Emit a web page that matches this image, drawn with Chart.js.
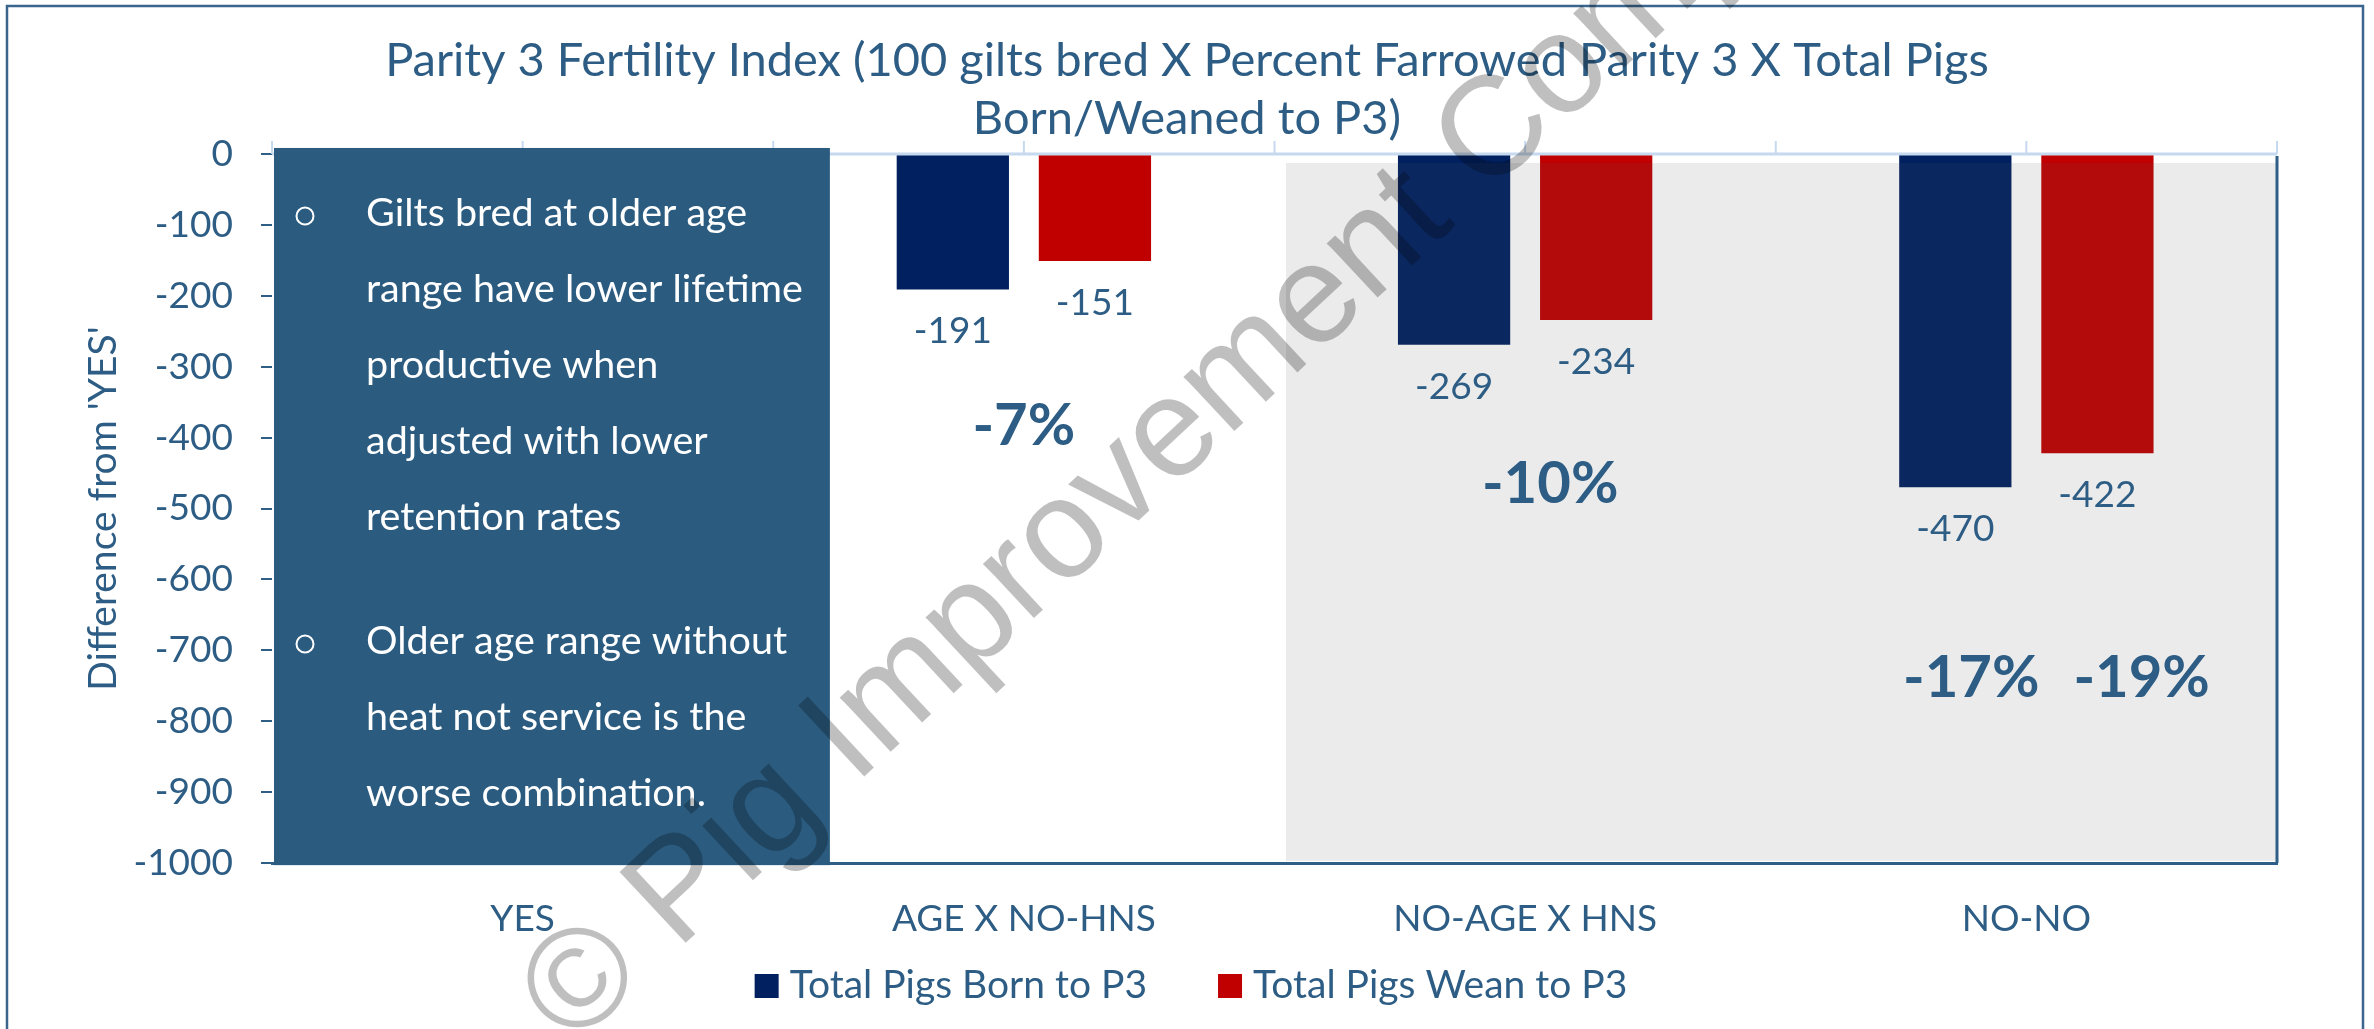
<!DOCTYPE html>
<html><head><meta charset="utf-8">
<script src="https://cdn.jsdelivr.net/npm/chart.js@4.4.1/dist/chart.umd.min.js"></script>
<style>html,body{margin:0;padding:0;background:#fff;overflow:hidden}canvas{display:block}</style>
</head><body>
<canvas id="c" width="2374" height="1029" style="width:2374px;height:1029px"></canvas>
<script>
// ---------- data ----------
const categories = ['YES', 'AGE X NO-HNS', 'NO-AGE X HNS', 'NO-NO'];
const seriesNames = ['Total Pigs Born to P3', 'Total Pigs Wean to P3'];
const bornToP3 = [0, -191, -269, -470];
const weanToP3 = [0, -151, -234, -422];
const yTickValues = [0, -100, -200, -300, -400, -500, -600, -700, -800, -900, -1000];
const pctLabels = ['-7%', '-10%', '-17%', '-19%'];
const titleLines = ['Parity 3 Fertility Index (100 gilts bred X Percent Farrowed Parity 3 X Total Pigs', 'Born/Weaned to P3)'];
const yAxisTitle = "Difference from 'YES'";
const noteGroups = [
  ['Gilts bred at older age', 'range have lower lifetime', 'productive when', 'adjusted with lower', 'retention rates'],
  ['Older age range without', 'heat not service is the', 'worse combination.']
];
const watermarkText = '\u00A9 Pig Improvement Company';

// ---------- annotation placement (in axis units) ----------
const pctPlacement = [ {x: 1.0, y: -381}, {x: 2.05, y: -462}, {x: 2.89, y: -736}, {x: 3.23, y: -736} ];
const shadeRegion = {x0: 1.523, x1: 3.5, y0: -12.7, y1: -997};
const noteBox = {x0: -0.496, x1: 0.613, y0: 8.5, y1: -1003};

// ---------- styles ----------
const FONT = 'Lato, "Open Sans", sans-serif';
const TXT = '#2d5d84';
const DARK = '#2f5f86';
const BOX = '#2b5c80';
const LIGHT = '#c6d9ee';

function ln(ctx, x0, y0, x1, y1) { ctx.beginPath(); ctx.moveTo(x0, y0); ctx.lineTo(x1, y1); ctx.stroke(); }

const decor = {
  id: 'decor',
  afterDatasetsDraw(chart) {
    const {ctx, chartArea: ca, scales: {x, y}} = chart;
    ctx.save();
    // shaded region (drawn over bars, semi-transparent)
    const gx0 = x.getPixelForValue(shadeRegion.x0), gx1 = x.getPixelForValue(shadeRegion.x1);
    const gy0 = y.getPixelForValue(shadeRegion.y0), gy1 = y.getPixelForValue(shadeRegion.y1);
    ctx.fillStyle = 'rgba(90,90,90,0.12)';
    ctx.fillRect(gx0, gy0, gx1 - gx0, gy1 - gy0);
    // zero axis line with upward tick marks
    const y0 = y.getPixelForValue(0);
    ctx.strokeStyle = LIGHT; ctx.lineWidth = 3;
    ln(ctx, ca.left, y0, ca.right, y0);
    ctx.lineWidth = 2;
    for (let k = 0; k <= categories.length * 2; k++) {
      const px = x.getPixelForValue(-0.5 + k * 0.5);
      ln(ctx, px, y0 - 13, px, y0);
    }
    // right plot border
    ctx.strokeStyle = DARK; ctx.lineWidth = 3;
    ln(ctx, ca.right, y0 + 2, ca.right, ca.bottom);
    // value labels
    ctx.fillStyle = TXT; ctx.font = '37px ' + FONT; ctx.textAlign = 'center'; ctx.textBaseline = 'alphabetic';
    chart.data.datasets.forEach((ds, di) => {
      const meta = chart.getDatasetMeta(di);
      meta.data.forEach((el, i) => {
        const v = ds.data[i];
        if (v === 0) return;
        ctx.fillText(String(v), el.x, el.y + 54);
      });
    });
    // percentage labels
    ctx.font = 'bold 58px ' + FONT;
    pctLabels.forEach((t, i) => {
      const p = pctPlacement[i];
      ctx.fillText(t, x.getPixelForValue(p.x), y.getPixelForValue(p.y) + 21);
    });
    ctx.restore();
  },
  afterDraw(chart) {
    const {ctx, scales: {x, y}, width: W} = chart;
    ctx.save();
    // note box
    const bx0 = x.getPixelForValue(noteBox.x0), bx1 = x.getPixelForValue(noteBox.x1);
    const by0 = y.getPixelForValue(noteBox.y0), by1 = y.getPixelForValue(noteBox.y1);
    ctx.fillStyle = BOX;
    ctx.fillRect(bx0, by0, bx1 - bx0, by1 - by0);
    ctx.fillStyle = '#ffffff'; ctx.strokeStyle = '#ffffff'; ctx.lineWidth = 2;
    ctx.font = '39.5px ' + FONT; ctx.textAlign = 'left'; ctx.textBaseline = 'alphabetic';
    let base = by0 + 78;
    noteGroups.forEach((grp, gi) => {
      if (gi > 0) base += 48;
      ctx.beginPath(); ctx.arc(bx0 + 31, base - 10, 8.5, 0, Math.PI * 2); ctx.stroke();
      grp.forEach(line => { ctx.fillText(line, bx0 + 92, base); base += 76; });
    });
    // title
    ctx.fillStyle = TXT; ctx.textAlign = 'center'; ctx.font = '47px ' + FONT;
    ctx.fillText(titleLines[0], W / 2, 76);
    ctx.fillText(titleLines[1], W / 2, 134);
    // legend
    ctx.font = '39px ' + FONT; ctx.textAlign = 'left';
    const colors = chart.data.datasets.map(d => d.backgroundColor);
    const widths = seriesNames.map(s => ctx.measureText(s).width);
    const total = widths.reduce((a, b) => a + b, 0) + seriesNames.length * 35 + 71 * (seriesNames.length - 1);
    let lx = W / 2 + 4 - total / 2;
    seriesNames.forEach((s, i) => {
      ctx.fillStyle = colors[i]; ctx.fillRect(lx, 974, 24, 24);
      ctx.fillStyle = TXT; ctx.fillText(s, lx + 35, 998);
      lx += 35 + widths[i] + 71;
    });
    // outer frame
    ctx.strokeStyle = '#3a668e'; ctx.lineWidth = 2.5;
    ctx.strokeRect(7, 6, 2356, 1040);
    // watermark
    ctx.translate(546, 1020);
    ctx.rotate(-43 * Math.PI / 180);
    ctx.font = '141px "Liberation Sans", Arial, sans-serif';
    ctx.fillStyle = 'rgba(0,0,0,0.25)'; ctx.textAlign = 'left'; ctx.textBaseline = 'middle';
    ctx.fillText(watermarkText, 0, 0);
    ctx.restore();
  }
};

new Chart(document.getElementById('c'), {
  type: 'bar',
  data: {
    labels: categories,
    datasets: [
      {label: seriesNames[0], data: bornToP3, backgroundColor: '#002060', categoryPercentage: 0.567, barPercentage: 0.79},
      {label: seriesNames[1], data: weanToP3, backgroundColor: '#C00000', categoryPercentage: 0.567, barPercentage: 0.79}
    ]
  },
  options: {
    responsive: false, animation: false, devicePixelRatio: 1, events: [],
    layout: {padding: {left: 0, right: 97, top: 154, bottom: 0}},
    plugins: {legend: {display: false}, title: {display: false}, tooltip: {enabled: false}},
    scales: {
      y: {
        min: -1000, max: 0,
        afterBuildTicks: s => { s.ticks = yTickValues.map(v => ({value: v})); },
        afterFit: s => { s.width = 272; },
        ticks: {font: {family: FONT, size: 37}, color: TXT, padding: 28, callback: v => String(v)},
        grid: {drawOnChartArea: false, drawTicks: true, tickLength: 11, color: DARK, lineWidth: 2},
        border: {display: false},
        title: {display: true, text: yAxisTitle, color: TXT, font: {family: FONT, size: 39}, padding: {top: 80, bottom: 0}}
      },
      x: {
        afterFit: s => { s.height = 166; },
        ticks: {font: {family: FONT, size: 37}, color: TXT, padding: 34, maxRotation: 0, autoSkip: false},
        grid: {display: true, drawOnChartArea: false, drawTicks: false},
        border: {display: true, color: DARK, width: 3}
      }
    }
  },
  plugins: [decor]
});
</script>
</body></html>
